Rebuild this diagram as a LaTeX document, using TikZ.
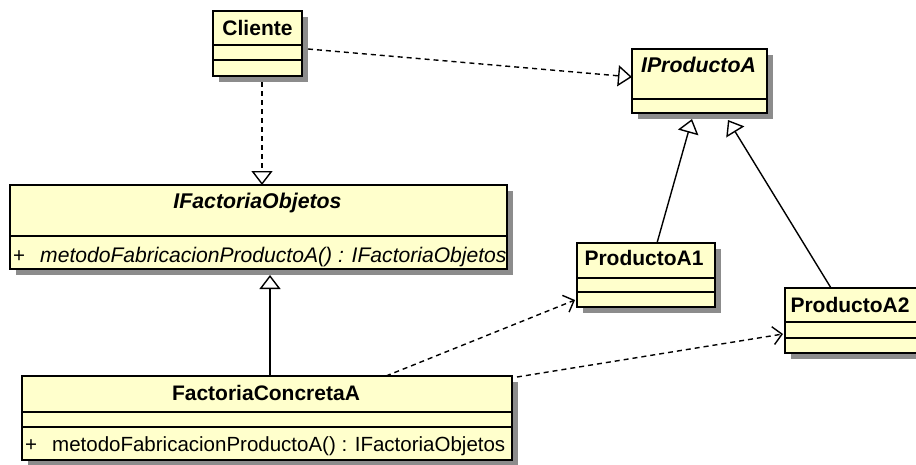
\documentclass[tikz,border=0pt]{standalone}
\usepackage{fontspec}
\setmainfont{Liberation Sans}
\usetikzlibrary{arrows.meta,shadows,calc}
\definecolor{clsfill}{HTML}{FFFFCC}
\definecolor{shadowgray}{HTML}{8C8C8C}
\tikzset{
  cls/.style={draw=black, line width=1.8pt, fill=clsfill, anchor=north west,
    inner sep=0pt, outer sep=0pt,
    drop shadow={shadow xshift=6pt, shadow yshift=-6pt, fill=shadowgray, opacity=1}},
  divider/.style={draw=black, line width=1.8pt},
  cname/.style={anchor=base, inner sep=0pt, font=\fontsize{21}{25}\selectfont\bfseries},
  iname/.style={cname, font=\fontsize{21.3}{25}\selectfont\bfseries\itshape},
  cmeth/.style={anchor=base west, inner sep=0pt, font=\fontsize{20.5}{24}\selectfont},
  imeth/.style={cmeth, font=\fontsize{21.1}{24}\selectfont\itshape},
  conn/.style={draw=black, line width=1.4pt},
  realize/.style={conn, dash pattern=on 5pt off 4pt, -{Triangle[open, length=14pt, width=21pt, line width=1.4pt]}},
  general/.style={conn, -{Triangle[open, length=14pt, width=21pt, line width=1.4pt]}},
  depend/.style={conn, dash pattern=on 5pt off 4pt, -{Straight Barb[length=9pt, width=18pt, line width=1.4pt]}}
}
\begin{document}
\begin{tikzpicture}[x=1pt, y=-1pt]
\useasboundingbox (0,0) rectangle (916,464);
\clip (0,0) rectangle (916,464);

% Cliente
\node[cls, minimum width=89pt, minimum height=65pt] (cli) at (213,11) {};
\draw[divider] (cli.west |- 0,45) -- (cli.east |- 0,45);
\draw[divider] (cli.west |- 0,60) -- (cli.east |- 0,60);
\node[cname] (clit) at ($(cli.north)+(0,24)$) {Cliente};

% IProductoA
\node[cls, minimum width=135pt, minimum height=64pt] (ipa) at (632,49) {};
\draw[divider] (ipa.west |- 0,99) -- (ipa.east |- 0,99);
\node[iname] (ipat) at ($(ipa.north)+(-1,23)$) {IProductoA};

% IFactoriaObjetos
\node[cls, minimum width=497pt, minimum height=84pt] (ifo) at (10,185) {};
\draw[divider] (ifo.west |- 0,236) -- (ifo.east |- 0,236);
\node[iname] (ifot) at ($(ifo.north)+(-1,23)$) {IFactoriaObjetos};
\node[cmeth] (ifop) at ($(ifo.north west)+(3,77)$) {+};
\node[imeth] (ifom) at ($(ifo.north west)+(30,77)$) {metodoFabricacionProductoA() : IFactoriaObjetos};

% ProductoA1
\node[cls, minimum width=138pt, minimum height=64pt] (pa1) at (577,243) {};
\draw[divider] (pa1.west |- 0,278) -- (pa1.east |- 0,278);
\draw[divider] (pa1.west |- 0,292) -- (pa1.east |- 0,292);
\node[cname] (pa1t) at ($(pa1.north)+(-2,22)$) {ProductoA1};

% ProductoA2
\node[cls, minimum width=138pt, minimum height=65pt] (pa2) at (785,288) {};
\draw[divider] (pa2.west |- 0,322) -- (pa2.east |- 0,322);
\draw[divider] (pa2.west |- 0,338) -- (pa2.east |- 0,338);
\node[cname] (pa2t) at ($(pa2.north)+(-4,24)$) {ProductoA2};

% FactoriaConcretaA
\node[cls, minimum width=490pt, minimum height=84pt] (fca) at (22,376) {};
\draw[divider] (fca.west |- 0,412) -- (fca.east |- 0,412);
\draw[divider] (fca.west |- 0,427) -- (fca.east |- 0,427);
\node[cname] (fcat) at ($(fca.north)+(-1,24)$) {FactoriaConcretaA};
\node[cmeth] (fcap) at ($(fca.north west)+(3,75)$) {+};
\node[cmeth] (fcam) at ($(fca.north west)+(30,75)$) {metodoFabricacionProductoA() : IFactoriaObjetos};

% Connectors
\draw[realize] ($(cli.east)+(6,5.5)$) -- ($(ipa.west)+(0,-4)$);
\draw[realize] ($(cli.south)+(4.5,6)$) -- ($(ifo.north)+(3.5,0)$);
\draw[general] ($(pa1.north west)+(80,0)$) -- ($(ipa.south west)+(60,6)$);
\draw[general] ($(pa2.north west)+(46,0)$) -- ($(ipa.south west)+(96,7)$);
\draw[general] ($(fca.north west)+(248,0)$) -- ($(ifo.south west)+(260,6)$);
\draw[depend] ($(fca.north west)+(364,0)$) -- ($(pa1.south west)+(-2,-7)$);
\draw[depend] ($(fca.north east)+(5,1)$) -- ($(pa2.west)+(-2,13.5)$);
\end{tikzpicture}
\end{document}
